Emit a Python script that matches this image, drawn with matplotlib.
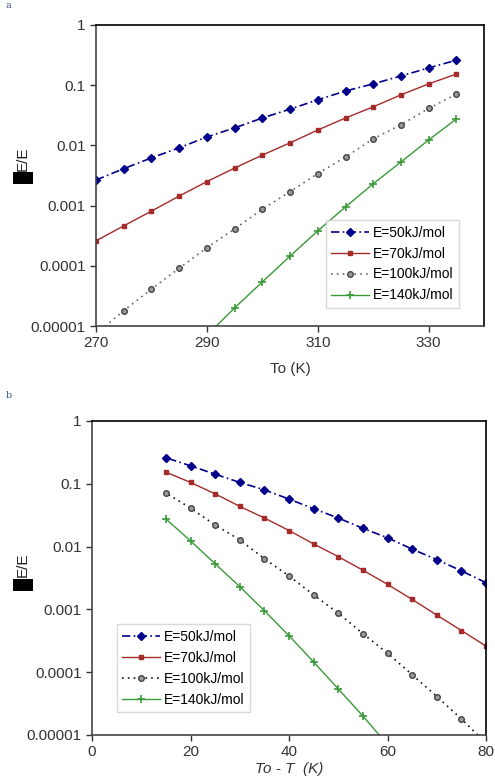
import numpy as np
import matplotlib.pyplot as plt
from matplotlib.patches import Rectangle

plt.rcParams['font.family'] = ['Liberation Sans', 'DejaVu Sans']

# data
To = [270, 275, 280, 285, 290, 295, 300, 305, 310, 315, 320, 325, 330, 335]
dT = [80, 75, 70, 65, 60, 55, 50, 45, 40, 35, 30, 25, 20, 15]   # To - T

e50 = [0.00266, 0.0041, 0.0062, 0.0091, 0.0138, 0.0195, 0.0285,
       0.040, 0.057, 0.080, 0.105, 0.142, 0.193, 0.26]
e70 = [0.00026, 0.00046, 0.00081, 0.00144, 0.0025, 0.0042, 0.0069,
       0.011, 0.018, 0.0285, 0.0436, 0.069, 0.105, 0.153]
e100 = [7.4e-6, 1.8e-5, 4.1e-5, 9.1e-5, 2.0e-4, 4.1e-4, 8.7e-4,
        0.0017, 0.0034, 0.0064, 0.0128, 0.022, 0.041, 0.071]
e140 = [6e-8, 2e-7, 7e-7, 2.3e-6, 7e-6, 2.0e-5, 5.4e-5,
        1.45e-4, 3.8e-4, 9.5e-4, 0.0023, 0.0053, 0.0123, 0.0275]

labels = ['E=50kJ/mol', 'E=70kJ/mol', 'E=100kJ/mol', 'E=140kJ/mol']
yticks = [1e-5, 1e-4, 1e-3, 1e-2, 1e-1, 1]
ytick_labels = ['0.00001', '0.0001', '0.001', '0.01', '0.1', '1']

fig = plt.figure(figsize=(4.95, 7.79), dpi=100)
ax1 = fig.add_axes([0.194, 0.5815, 0.784, 0.3865])
ax2 = fig.add_axes([0.186, 0.0565, 0.796, 0.4031])


def draw(ax, x, dotted_color):
    ax.plot(x, e50, color='#00008b', ls=(0, (5, 2, 1, 2)), lw=1.2, marker='D',
            ms=3.8, label=labels[0])
    ax.plot(x, e70, color='#a52a2a', ls='-', lw=1.0, marker='s', ms=3,
            label=labels[1])
    ax.plot(x, e100, color=dotted_color, ls=(0, (1, 2.5)), lw=1.2, marker='o',
            ms=4, mfc='#9a9a9a', mec='#444444', mew=1.0, label=labels[2])
    ax.plot(x, e140, color='#3a9a3a', ls='-', lw=1.0, marker='+', ms=6,
            mew=1.2, label=labels[3])
    ax.set_yscale('log')
    ax.set_ylim(1e-5, 1)
    ax.set_yticks(yticks)
    ax.set_yticklabels(ytick_labels)
    ax.minorticks_off()
    ax.tick_params(direction='out', length=4, labelsize=11, colors='#333333',
                   width=1)
    for s in ['left', 'bottom']:
        ax.spines[s].set_color('#444444')
        ax.spines[s].set_linewidth(1.2)
    for s in ['top', 'right']:
        ax.spines[s].set_color('black')
        ax.spines[s].set_linewidth(1.2)


legend_kw = dict(fontsize=10, frameon=True, fancybox=False,
                 edgecolor='#d0d0d0', handlelength=2.7, handletextpad=0.3,
                 labelspacing=0.5, borderpad=0.4, borderaxespad=0)

draw(ax1, To, '#666666')
ax1.set_xlim(270, 340)
ax1.set_xticks([270, 290, 310, 330])
ax1.set_xlabel('To (K)', fontsize=11, color='#333333', labelpad=8)
ax1.legend(loc='lower right', bbox_to_anchor=(0.936, 0.06), **legend_kw)

draw(ax2, dT, '#111111')
ax2.set_xlim(0, 80)
ax2.set_xticks([0, 20, 40, 60, 80])
ax2.set_xlabel('To - T  (K)', fontsize=11, color='#333333', style='italic',
               labelpad=2)
ax2.legend(loc='lower left', bbox_to_anchor=(0.063, 0.073), **legend_kw)

# y labels: "E/E" with the black box that replaced the delta sign
for ybox, ytxt in [(172, 159), (579, 565)]:
    fig.text(23 / 495, 1 - ytxt / 779, 'E/E', rotation=90, fontsize=11,
             ha='center', va='center', color='#222222')
    fig.patches.append(Rectangle((13 / 495, 1 - (ybox + 12) / 779),
                                 20 / 495, 12 / 779, transform=fig.transFigure,
                                 facecolor='black', edgecolor='none'))

fig.text(5 / 495, 1 - 5 / 779, 'a', fontsize=7, family='DejaVu Serif',
         color='#3c5a8a', ha='left', va='center')
fig.text(6 / 495, 1 - 396 / 779, 'b', fontsize=7, family='DejaVu Serif',
         color='#3c5a8a', ha='left', va='center')

fig.savefig('out.png', dpi=100)
